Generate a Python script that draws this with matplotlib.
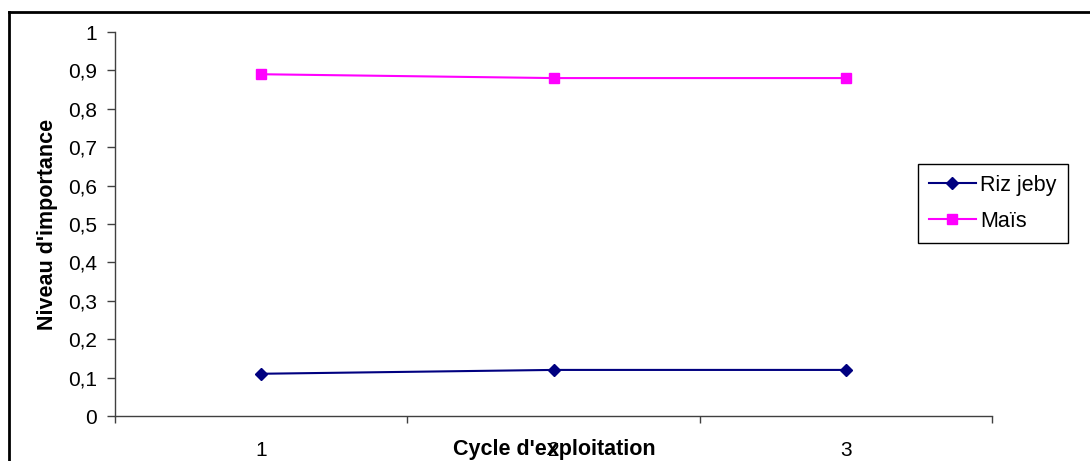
import numpy as np
import matplotlib.pyplot as plt
from matplotlib.lines import Line2D
from matplotlib.ticker import FuncFormatter, FixedLocator

plt.rcParams['font.family'] = ['Liberation Sans', 'DejaVu Sans']

# Données
cycles = [1, 2, 3]
riz_jeby = [0.11, 0.12, 0.12]
mais = [0.89, 0.88, 0.88]

fig = plt.figure(figsize=(10.9, 4.61), dpi=100)
ax = fig.add_axes([115 / 1090, 45 / 461, 877 / 1090, 384 / 461])

ax.plot(cycles, riz_jeby, color='#000080', marker='D', markersize=6.5, linewidth=1.5, label='Riz jeby')
ax.plot(cycles, mais, color='#FF00FF', marker='s', markersize=6.5, linewidth=1.5, label='Maïs')

ax.set_xlim(0.5, 3.5)
ax.set_ylim(0, 1)

# axe x : graduations entre les catégories, étiquettes au centre
ax.xaxis.set_major_locator(FixedLocator([0.5, 1.5, 2.5, 3.5]))
ax.xaxis.set_minor_locator(FixedLocator(cycles))
ax.xaxis.set_major_formatter(FuncFormatter(lambda v, p: ''))
ax.xaxis.set_minor_formatter(FuncFormatter(lambda v, p: '%d' % round(v)))
ax.tick_params(axis='x', which='major', direction='out', length=5, width=1, color='#404040')
ax.tick_params(axis='x', which='minor', length=0, pad=18, labelsize=15)

ax.yaxis.set_major_locator(FixedLocator(np.linspace(0, 1, 11)))
ax.yaxis.set_major_formatter(FuncFormatter(lambda v, p: ('%g' % round(v, 1)).replace('.', ',')))
ax.tick_params(axis='y', direction='out', length=6, width=1, color='#404040', pad=7, labelsize=15)

for s in ['top', 'right']:
    ax.spines[s].set_visible(False)
for s in ['left', 'bottom']:
    ax.spines[s].set_color('#404040')
    ax.spines[s].set_linewidth(1)

ax.set_xlabel("Cycle d'exploitation", fontsize=15.5, fontweight='bold')
ax.xaxis.set_label_coords(0.501, -0.086)
ax.xaxis.label.set_va('center')
ax.set_ylabel("Niveau d'importance", fontsize=15.5, fontweight='bold')
ax.yaxis.set_label_coords(-0.077, 0.5)
ax.yaxis.label.set_va('center')

leg = fig.legend(loc='upper left', bbox_to_anchor=(918 / 1090, (461 - 164) / 461),
                 fancybox=False, edgecolor='black', fontsize=15.5, handlelength=2.2,
                 handletextpad=0.2, labelspacing=0.7, borderpad=0.5,
                 borderaxespad=0, framealpha=1)
leg.get_frame().set_linewidth(1)

# cadre du graphique
fig.add_artist(Line2D([9 / 1090, 9 / 1090], [0, (461 - 12) / 461], color='black', linewidth=2))
fig.add_artist(Line2D([9 / 1090, 1], [(461 - 12) / 461, (461 - 12) / 461], color='black', linewidth=2))

fig.savefig('out.png', dpi=100)
